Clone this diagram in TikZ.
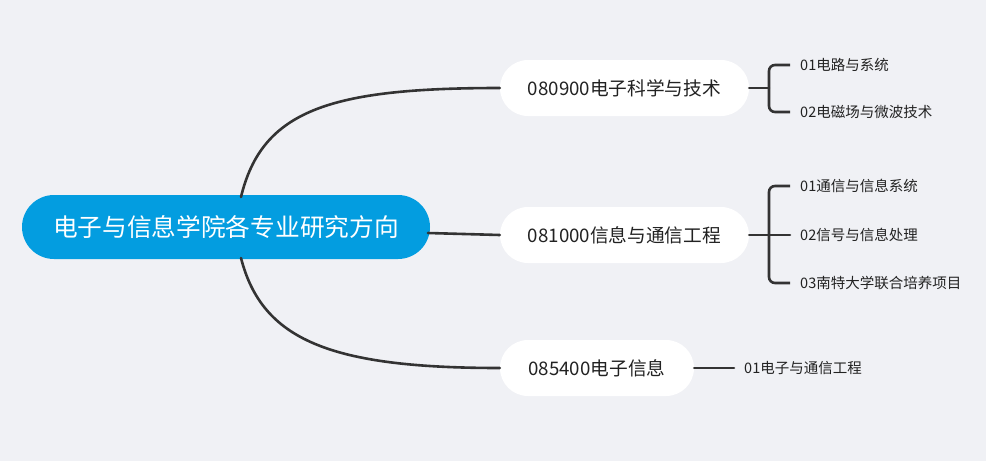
\documentclass[tikz,border=0pt]{standalone}
\usepackage{fontspec}
\setmainfont{Noto Sans CJK SC}
\definecolor{bgc}{RGB}{240,241,245}
\definecolor{rootc}{RGB}{3,157,224}
\definecolor{linec}{RGB}{51,51,51}
\definecolor{txtc}{RGB}{34,34,34}
\begin{document}
\begin{tikzpicture}[x=1pt,y=-1pt,
  rootbox/.style={fill=rootc,text=white,rounded corners=32pt,minimum width=408pt,minimum height=64pt,inner sep=0pt,font=\fontsize{24.7}{28}\selectfont},
  branchbox/.style={fill=white,text=txtc,rounded corners=28pt,minimum height=56pt,inner sep=0pt,font=\fontsize{18.7}{22}\selectfont},
  leaf/.style={anchor=west,text=txtc,inner ysep=0pt,inner xsep=10pt,font=\fontsize{14.5}{17}\selectfont},
  conn/.style={draw=linec,line width=2.6pt,line cap=round},
  brack/.style={draw=linec,line width=2.6pt,rounded corners=6pt}]
\useasboundingbox[fill=bgc] (0,0) rectangle (986,461);
\node[rootbox] (root) at (226,227) {电子与信息学院各专业研究方向};
\node[branchbox,minimum width=249pt] (b1) at (624.5,88) {080900电子科学与技术};
\node[branchbox,minimum width=249pt] (b2) at (624.5,235) {081000信息与通信工程};
\node[branchbox,minimum width=194pt] (b3) at (597,368) {085400电子信息};
% connectors from root
\coordinate (rt) at (241,197);
\coordinate (rb) at (241,258);
\coordinate (rm) at (428,233);
\draw[conn] (rt) .. controls (262,110) and (330,88) .. (b1.west);
\draw[conn] (rm) -- (b2.west);
\draw[conn] (rb) .. controls (262,340) and (330,368) .. (b3.west);
% leaves of b1
\node[leaf] (l11) at (790,65) {01电路与系统};
\node[leaf] (l12) at (790,112) {02电磁场与微波技术};
\coordinate (j1) at (769,88);
\draw[conn] (b1.east) -- (j1);
\draw[brack] (l11.west) -- (l11.west -| j1) -- (l12.west -| j1) -- (l12.west);
% leaves of b2
\node[leaf] (l21) at (790,186) {01通信与信息系统};
\node[leaf] (l22) at (790,235) {02信号与信息处理};
\node[leaf] (l23) at (790,283) {03南特大学联合培养项目};
\coordinate (j2) at (769,235);
\draw[conn] (b2.east) -- (l22.west);
\draw[brack] (l21.west) -- (l21.west -| j2) -- (l23.west -| j2) -- (l23.west);
% leaf of b3
\node[leaf] (l31) at (734,368) {01电子与通信工程};
\draw[conn] (b3.east) -- (l31.west);
\end{tikzpicture}
\end{document}
